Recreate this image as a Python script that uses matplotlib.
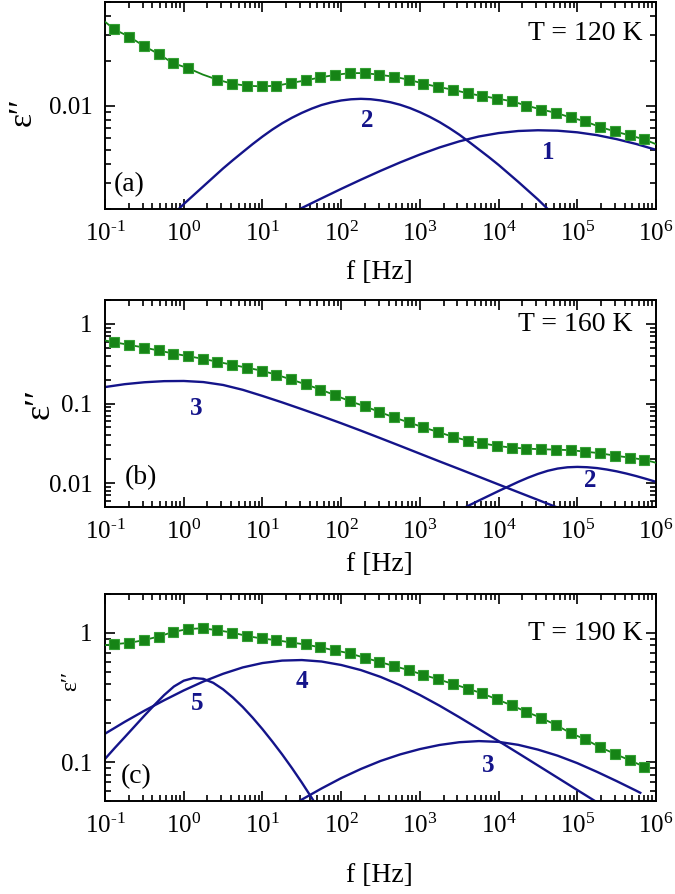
import numpy as np
import matplotlib
matplotlib.use("Agg")
import matplotlib.pyplot as plt
from matplotlib.ticker import (LogLocator, FixedLocator, FixedFormatter, NullFormatter,
                               FuncFormatter, LogFormatterSciNotation)

plt.rcParams['font.family'] = ['Liberation Serif', 'DejaVu Serif']
plt.rcParams['mathtext.fontset'] = 'custom'
plt.rcParams['mathtext.rm'] = 'Liberation Serif'
plt.rcParams['mathtext.it'] = 'Liberation Serif:italic'
plt.rcParams['mathtext.bf'] = 'Liberation Serif:bold'

# ---------------- data ----------------
freq = [0.131, 0.202, 0.310, 0.478, 0.735, 1.13, 1.74, 2.67, 4.11, 6.32, 9.73,
        15.0, 23.0, 35.4, 54.5, 83.8, 129, 198, 305, 469, 721, 1109, 1706, 2624,
        4036, 6209, 9550, 14690, 22590, 34750, 53460, 82220, 126500, 194500,
        299200, 460300, 707900]

# panel (a) T = 120 K  (point index 6 not measured)
eps_a = [0.0327, 0.0292, 0.0253, 0.0223, 0.0193, 0.0179, 0.0162, 0.01495, 0.01405,
         0.0136, 0.01348, 0.0136, 0.0142, 0.01479, 0.0155, 0.0161, 0.01656, 0.01656,
         0.01615, 0.01565, 0.01495, 0.01405, 0.01335, 0.0128, 0.0121, 0.0116, 0.01114,
         0.01069, 0.0100, 0.0094, 0.00893, 0.00831, 0.00781, 0.00716, 0.00669,
         0.00629, 0.00591]
missing_a = [6]
fit_edges_a = [0.0368, 0.00548]

# panel (b) T = 160 K
eps_b = [0.589, 0.546, 0.506, 0.464, 0.425, 0.394, 0.365, 0.335, 0.307, 0.282,
         0.259, 0.230, 0.201, 0.174, 0.150, 0.127, 0.107, 0.0925, 0.0785, 0.0668,
         0.0579, 0.0501, 0.0438, 0.0382, 0.0341, 0.0316, 0.0293, 0.0279, 0.0271,
         0.0266, 0.0263, 0.0259, 0.0248, 0.0237, 0.0221, 0.0209, 0.0196]
fit_edges_b = [0.62, 0.0180]

# panel (c) T = 190 K
eps_c = [0.819, 0.838, 0.879, 0.938, 1.018, 1.073, 1.087, 1.049, 1.007, 0.948,
         0.906, 0.879, 0.844, 0.814, 0.773, 0.732, 0.695, 0.642, 0.598, 0.554,
         0.516, 0.473, 0.438, 0.403, 0.371, 0.340, 0.306, 0.275, 0.245, 0.220,
         0.194, 0.168, 0.150, 0.1305, 0.116, 0.1035, 0.0922]
fit_edges_c = [0.804, None]

# relaxation components (log10 f, eps'')
a1_logf = [1.25, 1.5, 1.75, 2.0, 2.25, 2.5, 2.75, 3.0, 3.25, 3.5, 3.75, 4.0, 4.25,
           4.5, 4.75, 5.0, 5.25, 5.5, 5.75, 6.0]
a1_eps = [0.001746, 0.002032, 0.002360, 0.002735, 0.003155, 0.003622, 0.004130,
          0.004667, 0.005212, 0.005728, 0.006180, 0.006516, 0.006730, 0.006808,
          0.006761, 0.006592, 0.006310, 0.005929, 0.005495, 0.005023]
a2_logf = [-0.5, -0.25, 0.0, 0.25, 0.5, 0.625, 0.75, 0.875, 1.0, 1.125, 1.25, 1.375,
           1.5, 1.625, 1.75, 1.875, 2.0, 2.125, 2.25, 2.375, 2.5, 2.625, 2.75, 2.875,
           3.0, 3.125, 3.25, 3.375, 3.5, 3.625, 3.75, 3.875, 4.0, 4.25, 4.5, 4.75, 5.0]
a2_eps = [0.00119, 0.00160, 0.00216, 0.00285, 0.00376, 0.00428, 0.00485, 0.00549,
          0.00617, 0.00688, 0.00759, 0.00827, 0.00892, 0.00953, 0.01008, 0.01050,
          0.01082, 0.01102, 0.0111, 0.01103, 0.01083, 0.01053, 0.01012, 0.00961,
          0.00902, 0.00839, 0.00773, 0.00704, 0.00636, 0.00568, 0.00505, 0.00449,
          0.00397, 0.00305, 0.00232, 0.00172, 0.00127]

b3_logf = [-1.0, -0.75, -0.5, -0.25, 0.0, 0.25, 0.5, 0.75, 1.0, 1.25, 1.5, 1.75, 2.0,
           2.25, 2.5, 2.75, 3.0, 3.25, 3.5, 3.75, 4.0, 4.25, 4.5, 4.75, 5.0]
b3_eps = [0.161, 0.175, 0.185, 0.191, 0.192, 0.186, 0.171, 0.1486, 0.1245, 0.1033,
          0.0849, 0.0695, 0.0565, 0.0456, 0.0366, 0.0293, 0.0234, 0.0187, 0.0150,
          0.0120, 0.00959, 0.00767, 0.00614, 0.00491, 0.00393]
b2_logf = [3.25, 3.5, 3.75, 4.0, 4.25, 4.375, 4.5, 4.625, 4.75, 4.875, 5.0, 5.125,
           5.25, 5.375, 5.5, 5.625, 5.75, 5.875, 6.0]
b2_eps = [0.00343, 0.00455, 0.00603, 0.00794, 0.01035, 0.01169, 0.01303, 0.01426,
          0.01521, 0.01578, 0.01596, 0.01581, 0.01542, 0.01479, 0.01403, 0.01315,
          0.01222, 0.01127, 0.01035]

c5_logf = [-1.0, -0.875, -0.75, -0.625, -0.5, -0.375, -0.25, -0.125, 0.0, 0.125,
           0.25, 0.375, 0.5, 0.625, 0.75, 0.875, 1.0, 1.125, 1.25, 1.375, 1.5,
           1.625, 1.75]
c5_eps = [0.106, 0.129, 0.156, 0.189, 0.229, 0.276, 0.330, 0.385, 0.427, 0.448,
          0.441, 0.411, 0.366, 0.316, 0.267, 0.221, 0.180, 0.1445, 0.1148, 0.0899,
          0.0695, 0.0530, 0.0398]
c4_logf = [-1.0, -0.75, -0.5, -0.25, 0.0, 0.25, 0.5, 0.75, 1.0, 1.25, 1.5, 1.75, 2.0,
           2.25, 2.5, 2.75, 3.0, 3.25, 3.5, 3.75, 4.0, 4.25, 4.5, 4.75, 5.0, 5.25, 5.5]
c4_eps = [0.166, 0.205, 0.250, 0.301, 0.359, 0.421, 0.483, 0.541, 0.585, 0.611,
          0.617, 0.601, 0.565, 0.516, 0.457, 0.394, 0.331, 0.2735, 0.2228, 0.1803,
          0.1455, 0.1172, 0.0942, 0.0757, 0.0608, 0.0489, 0.0393]
c3_logf = [1.25, 1.5, 1.75, 2.0, 2.25, 2.5, 2.75, 3.0, 3.25, 3.5, 3.75, 4.0, 4.25,
           4.5, 4.75, 5.0, 5.25, 5.5, 5.75, 5.8]
c3_eps = [0.0417, 0.0513, 0.0625, 0.0752, 0.0885, 0.1021, 0.1148, 0.1262, 0.1358,
          0.1426, 0.1455, 0.1435, 0.1361, 0.1250, 0.1122, 0.0982, 0.0841, 0.0713,
          0.0600, 0.0579]

# axes settings
ylim_a, ylim_b, ylim_c = (0.002, 0.05), (0.005, 2.0), (0.05, 2.0)
yt_a, ytl_a = [0.01], ['0.01']
yt_b, ytl_b = [0.01, 0.1, 1], ['0.01', '0.1', '1']
yt_c, ytl_c = [0.1, 1], ['0.1', '1']
temps = ['T = 120 K', 'T = 160 K', 'T = 190 K']
letters = ['(a)', '(b)', '(c)']

GREEN = '#168416'
GREEN_EDGE = '#35a035'
NAVY = '#14148a'


def xfmt(v, pos):
    e = int(round(np.log10(v)))
    s = str(e).replace('-', r'\text{-}')
    return r'$\mathdefault{10^{%s}}$' % s


def build(use_hyphen):
    fig = plt.figure(figsize=(6.75, 8.94), dpi=100)
    W = 0.8163
    ax_a = fig.add_axes([0.1556, 0.7662, W, 0.2315])
    ax_b = fig.add_axes([0.1556, 0.4329, W, 0.2315])
    ax_c = fig.add_axes([0.1556, 0.1040, W, 0.2315])

    def style(ax, ylim, yt, ytl):
        ax.set_xscale('log')
        ax.set_yscale('log')
        ax.set_xlim(0.1, 1e6)
        ax.set_ylim(*ylim)
        ax.xaxis.set_major_locator(LogLocator(base=10, numticks=20))
        if use_hyphen:
            ax.xaxis.set_major_formatter(FuncFormatter(xfmt))
        else:
            ax.xaxis.set_major_formatter(LogFormatterSciNotation())
        ax.xaxis.set_minor_locator(LogLocator(base=10, subs=np.arange(2, 10), numticks=200))
        ax.xaxis.set_minor_formatter(NullFormatter())
        ax.yaxis.set_major_locator(FixedLocator(yt))
        ax.yaxis.set_major_formatter(FixedFormatter(ytl))
        ax.yaxis.set_minor_locator(LogLocator(base=10, subs=np.arange(2, 10), numticks=200))
        ax.yaxis.set_minor_formatter(NullFormatter())
        ax.tick_params(which='both', direction='in', top=True, right=True, width=1.2)
        ax.tick_params(which='major', length=7, labelsize=18, pad=9)
        ax.tick_params(which='minor', length=4)
        for s in ax.spines.values():
            s.set_linewidth(1.4)

    def data_plot(ax, eps, edges, missing=()):
        fl = list(freq)
        el = list(eps)
        if edges[0] is not None:
            fl = [0.1] + fl
            el = [edges[0]] + el
        if edges[1] is not None:
            fl = fl + [1e6]
            el = el + [edges[1]]
        ax.plot(fl, el, '-', color=GREEN, lw=1.3, zorder=3)
        fp = [f for i, f in enumerate(freq) if i not in missing]
        ep = [e for i, e in enumerate(eps) if i not in missing]
        ax.plot(fp, ep, 's', ms=7.5, color=GREEN, mec=GREEN_EDGE, mew=0.8, zorder=4)

    def comp(ax, lf, ev):
        ax.plot(10 ** np.array(lf), ev, '-', color=NAVY, lw=1.7, zorder=2,
                solid_joinstyle='round')

    def num(ax, x, y, s):
        ax.text(x, y, s, transform=ax.transAxes, color=NAVY, fontsize=18,
                fontweight='bold', ha='center', va='center')

    style(ax_a, ylim_a, yt_a, ytl_a)
    comp(ax_a, a2_logf, a2_eps)
    comp(ax_a, a1_logf, a1_eps)
    data_plot(ax_a, eps_a, fit_edges_a, missing_a)
    num(ax_a, 0.475, 0.43, '2')
    num(ax_a, 0.804, 0.275, '1')

    style(ax_b, ylim_b, yt_b, ytl_b)
    comp(ax_b, b3_logf, b3_eps)
    comp(ax_b, b2_logf, b2_eps)
    data_plot(ax_b, eps_b, fit_edges_b)
    num(ax_b, 0.166, 0.477, '3')
    num(ax_b, 0.881, 0.13, '2')

    style(ax_c, ylim_c, yt_c, ytl_c)
    comp(ax_c, c5_logf, c5_eps)
    comp(ax_c, c4_logf, c4_eps)
    comp(ax_c, c3_logf, c3_eps)
    data_plot(ax_c, eps_c, fit_edges_c)
    num(ax_c, 0.168, 0.472, '5')
    num(ax_c, 0.357, 0.576, '4')
    num(ax_c, 0.696, 0.174, '3')

    temp_pos = [(0.975, 0.85), (0.958, 0.88), (0.975, 0.81)]
    letter_pos = [(0.016, 0.12), (0.036, 0.14), (0.029, 0.118)]
    ylab_pos = [(-0.150, 0.469, 24), (-0.118, 0.498, 26), (-0.062, 0.58, 17)]
    xlab_top = [-0.246, -0.217, -0.30]
    for ax, t, tp, l, lp, yl, xt in zip([ax_a, ax_b, ax_c], temps, temp_pos, letters,
                                        letter_pos, ylab_pos, xlab_top):
        ax.text(tp[0], tp[1], t, transform=ax.transAxes, ha='right', va='center',
                fontsize=20)
        ax.text(lp[0], lp[1], l, transform=ax.transAxes, ha='left', va='center',
                fontsize=20)
        ax.text(yl[0], yl[1], 'ε\u2032\u2032', transform=ax.transAxes, ha='center',
                va='center', rotation=90, fontsize=yl[2])
        ax.set_xlabel('f [Hz]', fontsize=20)
        ax.xaxis.set_label_coords(0.498, xt)
    return fig


try:
    fig = build(True)
    fig.canvas.draw()
except Exception:
    plt.close('all')
    fig = build(False)

fig.savefig('out.png', dpi=100)
